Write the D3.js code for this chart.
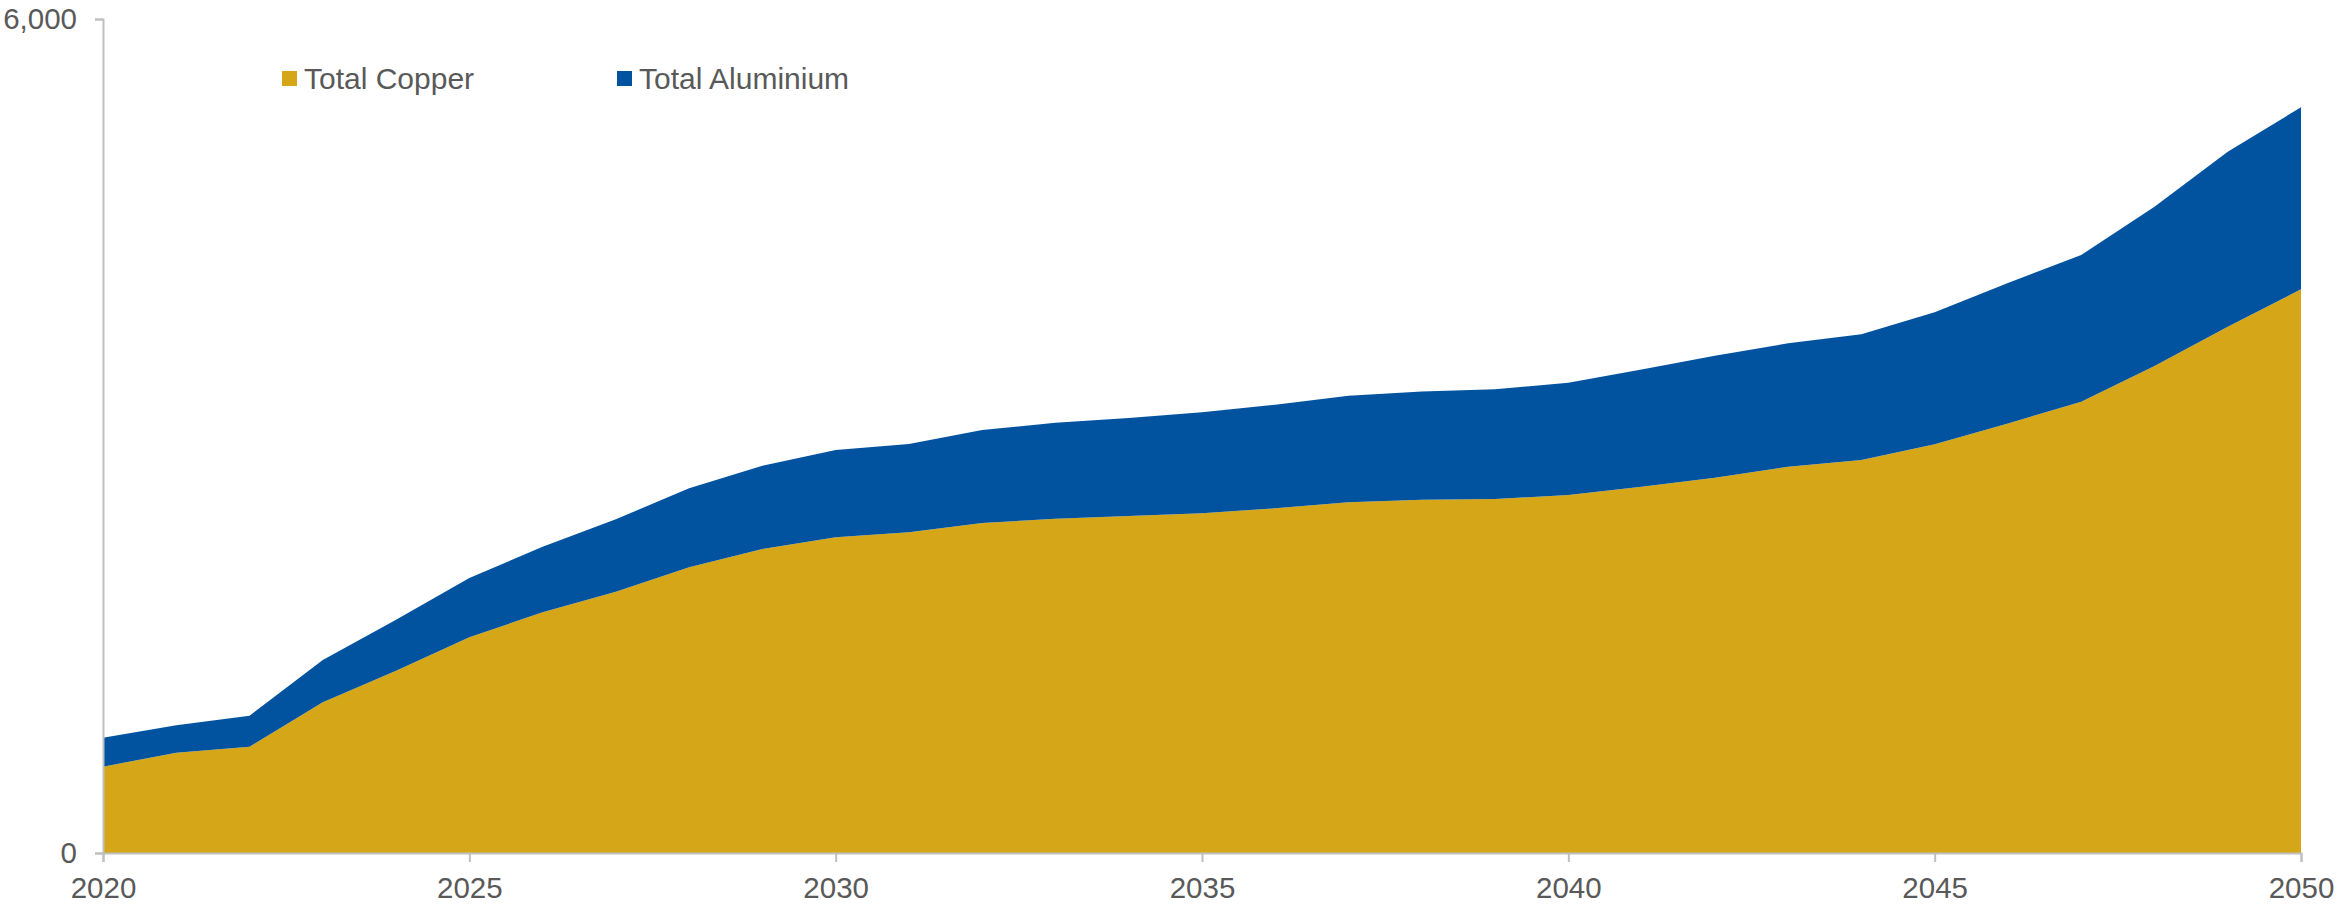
<!DOCTYPE html>
<html>
<head>
<meta charset="utf-8">
<script src="https://cdn.jsdelivr.net/npm/d3@7"></script>
<style>
  html, body { margin: 0; padding: 0; background: #ffffff; }
  svg { display: block; }
  text { font-family: "Liberation Sans", Arial, sans-serif; }
</style>
</head>
<body>
<svg id="chart" width="2336" height="904"></svg>
<script>
const years = [2020,2021,2022,2023,2024,2025,2026,2027,2028,2029,2030,2031,2032,2033,2034,2035,2036,2037,2038,2039,2040,2041,2042,2043,2044,2045,2046,2047,2048,2049,2050];
const copper = [621,722,765,1084,1312,1552,1732,1880,2055,2187,2271,2307,2374,2405,2425,2444,2480,2523,2542,2547,2576,2635,2700,2779,2827,2940,3090,3247,3504,3786,4055];
const aluminium = [208,197,223,304,366,426,471,521,569,599,628,635,669,690,705,726,745,767,779,789,807,843,878,888,905,950,1011,1055,1146,1259,1310];
const seriesNames = ["Total Copper", "Total Aluminium"];
const seriesColors = ["#D5A718", "#02539F"];
const xTicks = [2020,2025,2030,2035,2040,2045,2050];
const yTicks = [0, 6000];

const svg = d3.select("#chart");
const margin = {left: 103, right: 35, top: 19, bottom: 51};
const W = 2336, H = 904;

const x = d3.scaleLinear().domain([2020, 2050]).range([margin.left, W - margin.right]);
const y = d3.scaleLinear().domain([0, 6000]).range([H - margin.bottom, margin.top]);

const table = years.map((yr, i) => ({year: yr, "Total Copper": copper[i], "Total Aluminium": aluminium[i]}));
const stacked = d3.stack().keys(seriesNames)(table);

const area = d3.area()
  .x(d => x(d.data.year))
  .y0(d => y(d[0]))
  .y1(d => y(d[1]));

svg.append("g").selectAll("path")
  .data(stacked)
  .join("path")
  .attr("d", area)
  .attr("fill", (d, i) => seriesColors[i]);

const axisColor = "#BFBFBF";
const labelColor = "#595959";

const xAxis = svg.append("g")
  .attr("transform", `translate(0,${y(0)})`)
  .call(d3.axisBottom(x).tickValues(xTicks).tickFormat(d3.format("d")).tickSize(9).tickPadding(15));
const yAxis = svg.append("g")
  .attr("transform", `translate(${x(2020)},0)`)
  .call(d3.axisLeft(y).tickValues(yTicks).tickFormat(d3.format(",")).tickSize(8).tickPadding(18));

[xAxis, yAxis].forEach(g => {
  g.select(".domain").attr("stroke", axisColor).attr("stroke-width", 2);
  g.selectAll(".tick line").attr("stroke", axisColor).attr("stroke-width", 2);
  g.selectAll(".tick text")
    .attr("fill", labelColor)
    .style("font-size", "29.5px")
    .style("font-family", "'Liberation Sans', Arial, sans-serif");
});

// Legend
const legendX = [282, 617];
const legend = svg.append("g");
seriesNames.forEach((name, i) => {
  legend.append("rect")
    .attr("x", legendX[i]).attr("y", 71)
    .attr("width", 15).attr("height", 15)
    .attr("fill", seriesColors[i]);
  legend.append("text")
    .attr("x", legendX[i] + 22).attr("y", 78)
    .attr("dy", "0.35em")
    .attr("fill", labelColor)
    .style("font-size", "30px")
    .text(name);
});
</script>
</body>
</html>
